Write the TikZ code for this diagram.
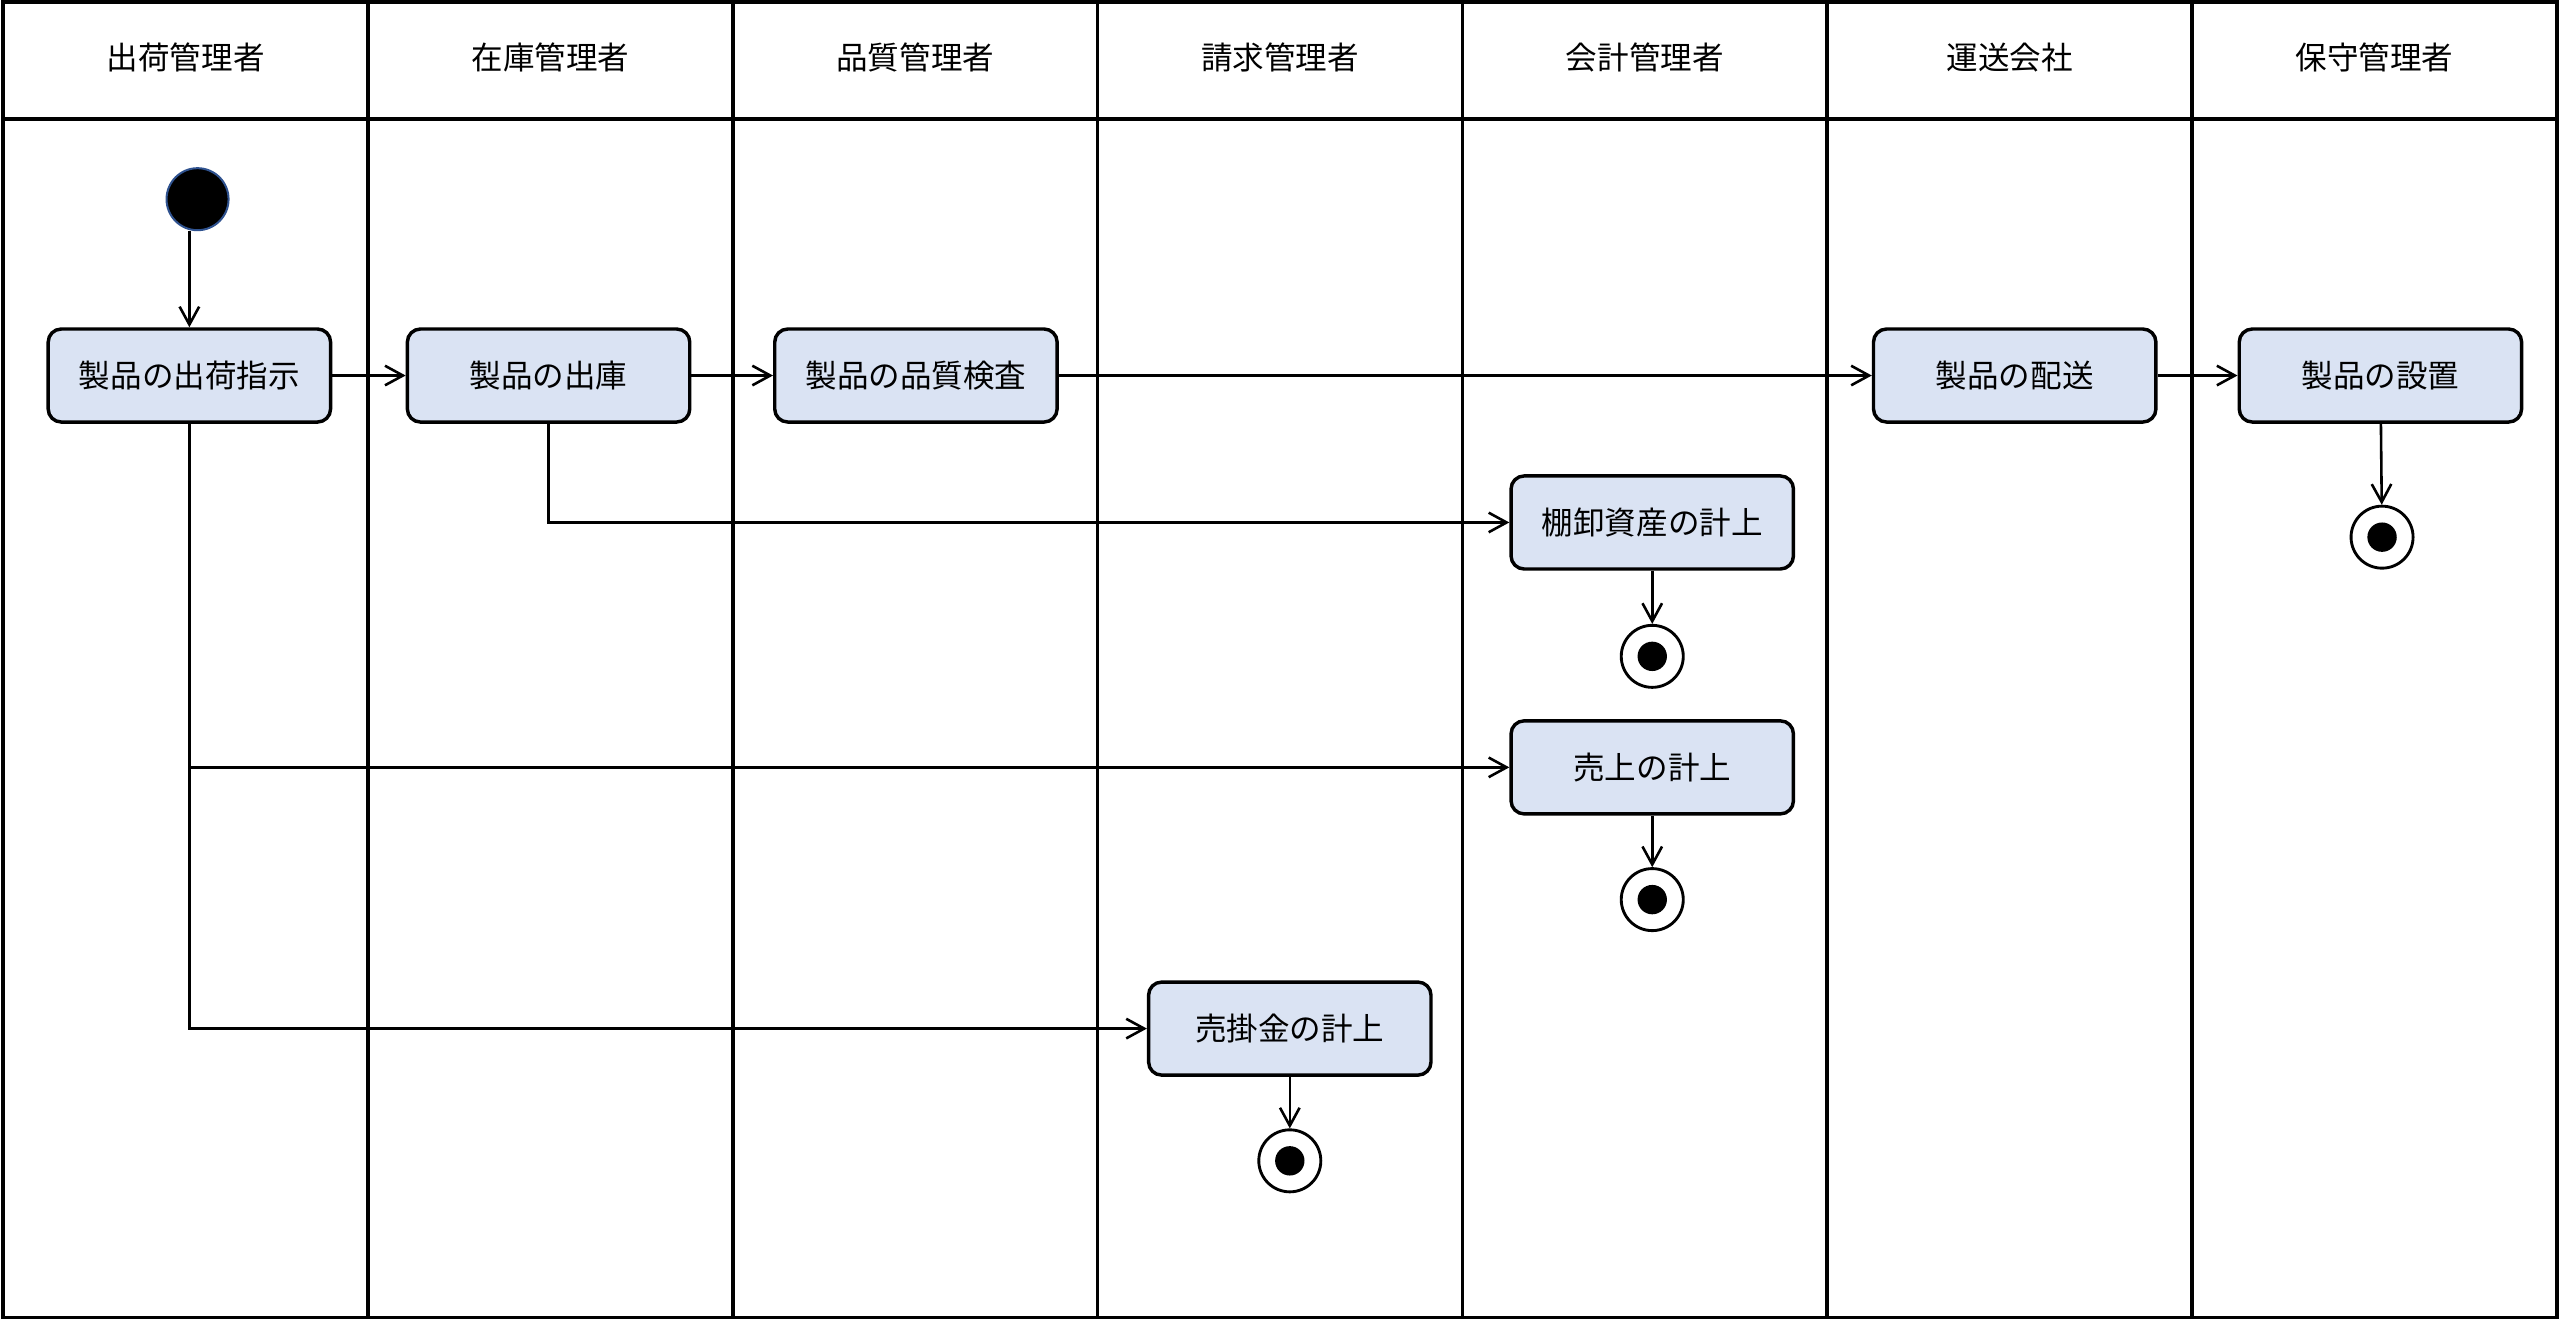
\documentclass[tikz,border=0pt]{standalone}
\usepackage{fontspec}
\setmainfont{Noto Sans CJK JP}
\usetikzlibrary{arrows.meta,positioning,shapes}
\definecolor{actfill}{HTML}{DAE3F3}
\definecolor{startline}{HTML}{2F528F}

\begin{document}
\begin{tikzpicture}[x=0.02cm,y=-0.02cm,font=\fontsize{11}{13}\selectfont]
	\tikzset{>={Straight Barb[length=2.2mm,width=2.4mm]}}
	\tikzset{act/.style={draw,line width=1.2pt,rounded corners=0.16cm,fill=actfill,minimum width=3.46cm,minimum height=1.14cm}}
	\tikzset{fin/.style={circle,draw,line width=1pt,fill=white,minimum size=0.76cm,path picture={\fill[black] (path picture bounding box.center) circle (0.18cm);}}}
	\useasboundingbox (0,0) rectangle (1568,809);

	% lanes
	\draw[line width=1.3pt] (2,1) rectangle (1566,807);
	\draw[line width=1.3pt] (2,73) -- (1566,73);
	\foreach \i in {1,...,6}
		\draw[line width=1.3pt] (2+\i*223.43,1) -- (2+\i*223.43,807);
	\foreach \name [count=\i] in {出荷管理者,在庫管理者,品質管理者,請求管理者,会計管理者,運送会社,保守管理者}
		\node (h\i) at (2+\i*223.43-111.7,35) {\name};

	% actions
	\node[circle,draw=startline,line width=0.7pt,fill=black,minimum size=0.76cm,inner sep=0pt] (s) at (121,122) {};
	\node[act] (a1) at (116,230) {製品の出荷指示};
	\node[act] (a2) at (336,230) {製品の出庫};
	\node[act] (a3) at (561,230) {製品の品質検査};
	\node[act] (a4) at (1234,230) {製品の配送};
	\node[act] (a5) at (1458,230) {製品の設置};
	\node[act] (a6) at (1012,320) {棚卸資産の計上};
	\node[act] (a7) at (1012,470) {売上の計上};
	\node[act] (a8) at (790,630) {売掛金の計上};
	\node[fin] (e1) at (1012,402) {};
	\node[fin] (e2) at (1012,551) {};
	\node[fin] (e3) at (790,711) {};
	\node[fin] (e4) at (1459,329) {};

	\draw[->,line width=0.9pt] (a1.north |- s.south) -- (a1.north);
	\draw[->,line width=0.9pt] (a1) -- (a2);
	\draw[->,line width=0.9pt] (a2) -- (a3);
	\draw[->,line width=0.9pt] (a3) -- (a4);
	\draw[->,line width=0.9pt] (a4) -- (a5);
	\draw[->,line width=0.9pt] (a2.south) |- (a6.west);
	\draw[->,line width=0.9pt] (a1.south) |- (a7.west);
	\draw[->,line width=0.9pt] (a1.south) |- (a8.west);
	\draw[->,line width=0.9pt] (a6) -- (e1);
	\draw[->,line width=0.9pt] (a7) -- (e2);
	\draw[->,line width=0.9pt] (a8) -- (e3);
	\draw[->,line width=0.9pt] (a5) -- (e4);
\end{tikzpicture}
\end{document}
